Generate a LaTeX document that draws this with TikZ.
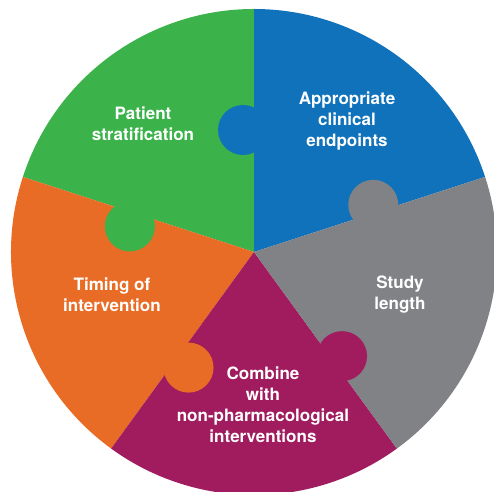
\documentclass[tikz,border=0pt]{standalone}
\usepackage{fontspec}
\setmainfont{TeX Gyre Heros}
\definecolor{pgreen}{RGB}{59,178,74}
\definecolor{pblue}{RGB}{16,114,186}
\definecolor{pgrey}{RGB}{128,130,133}
\definecolor{porange}{RGB}{232,108,37}
\definecolor{ppurple}{RGB}{160,28,94}
\begin{document}
\begin{tikzpicture}[x=0.02cm,y=0.02cm,
		piecetext/.style={text=white,font=\bfseries\fontsize{9.7}{11.9}\selectfont,align=center}]
			\useasboundingbox (-254,-240) rectangle (240,252);
			% pieces
			\foreach \a/\col in {18/pblue,90/pgreen,162/porange,234/ppurple,306/pgrey}
				\fill[\col] (0,0) -- (\a:243) arc (\a:\a+72:243) -- cycle;
			% knobs
			\foreach \a/\col/\d/\o in {90/pblue/122/11,162/pgreen/126/14,234/porange/132/15,306/ppurple/136/10,18/pgrey/128/8}
				\fill[\col] (\a:\d) ++(\a+90:\o) circle (25);
			\node[piecetext] (patient) at (-111,128) {Patient\\stratification};
			\node[piecetext] (endpoints) at (93,131) {Appropriate\\clinical\\endpoints};
			\node[piecetext] (length) at (146,-43) {Study\\length};
			\node[piecetext] (timing) at (-142,-43) {Timing of\\intervention};
			\node[piecetext] (combine) at (9,-153) {Combine\\with\\non-pharmacological\\interventions};
		\end{tikzpicture}
\end{document}
